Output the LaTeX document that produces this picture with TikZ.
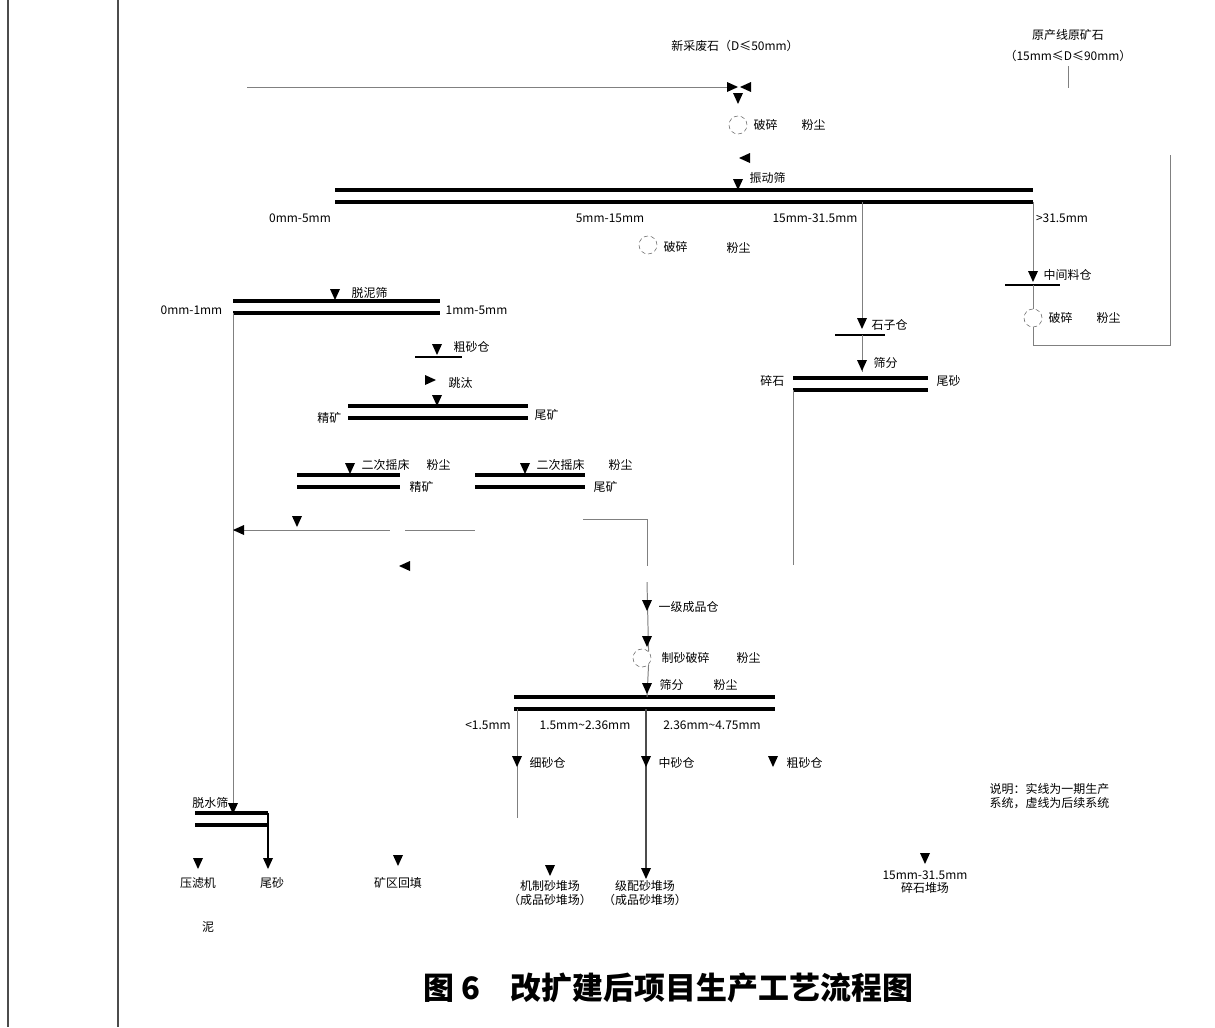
\documentclass[tikz,border=0pt]{standalone}
\usepackage{fontspec}
\usepackage{tikz}
\newfontfamily\cjk{Noto Sans CJK SC}
\newcommand{\lblfont}{\cjk\fontsize{8.5}{9.5}\selectfont}
% markers on the flow lines
\newcommand{\dtri}[1]{\fill #1 ++(-5,-7) -- ++(10,0) -- ++(-5,11) -- cycle;}
\newcommand{\ltri}[1]{\fill #1 ++(-6,0) -- ++(11,-5) -- ++(0,10) -- cycle;}
\newcommand{\rtri}[1]{\fill #1 ++(6,0) -- ++(-11,-5) -- ++(0,10) -- cycle;}

\begin{document}
\begin{tikzpicture}[x=0.025cm,y=-0.025cm,
  screen/.style={line width=2.3pt},
  feed/.style={line width=0.7pt,draw=black!50},
  lbl/.style={font=\lblfont,inner sep=1pt},
  crusher/.style={circle,draw=black!60,densely dashed,minimum size=0.45cm,inner sep=0pt}]

\useasboundingbox (0,0) rectangle (1215,1027);

% page rules
\draw[line width=1pt,black!70] (8,0) -- (8,1027);
\draw[line width=1pt,black!70] (118,0) -- (118,1027);

\coordinate (feedA) at (247,87);
\coordinate (hopA) at (733,87);
\coordinate (rawA) at (1068,66);
\coordinate (rawB) at (1068,88);

\node[crusher] (cr1) at (738,125) {};
\node[crusher] (cr2) at (648,245) {};
\node[crusher] (cr3) at (1033,318) {};
\node[crusher] (cr4) at (642,658) {};

% screens (double thick bars)
\foreach \xa/\xb/\y in {335/1033/190, 335/1033/202,
                        233/440/301, 233/440/313,
                        348/528/406, 348/528/418,
                        297/400/475, 297/400/487,
                        475/585/475, 475/585/487,
                        793/928/378, 793/928/390,
                        514/775/697, 514/775/709,
                        195/268/813, 195/268/825}
    \draw[screen] (\xa,\y) -- (\xb,\y);

% short feeder bars
\foreach \xa/\xb/\y in {415/462/357, 835/885/335, 1005/1060/285}
    \draw[line width=0.8pt] (\xa,\y) -- (\xb,\y);

% flow lines
\draw[feed] (feedA) -- (hopA);
\draw[feed] (rawA) -- (rawB);
\draw[feed] (1170,155) -- (1170,345) -- (1033,345) -- (cr3.south);
\draw[feed] (1033,202) -- (1033,278);
\draw[feed] (cr3.north) -- (1033,285);
\draw[feed] (862,202) -- (862,320);
\draw[feed] (862,335) -- (862,372);
\draw[feed] (793,390) -- (793,565);
\draw[feed] (233,313) -- (233,810);
\draw[feed] (233,530) -- (390,530);
\draw[feed] (405,530) -- (475,530);
\draw[feed] (583,519) -- (647,519) -- (647,566);
\draw[feed] (647,582) -- (cr4.north east);
\draw[feed] (cr4.south east) -- (647,697);
\draw[feed] (517,709) -- (517,818);
\draw[line width=0.9pt,black!70] (646,709) -- (646,872);
\draw[line width=1.2pt] (268,813) -- (268,862);

% triangles
\foreach \p in {(738,100),(738,186),(335,296),(437,351),(437,402),(350,470),
                (525,470),(297,523),(862,325),(862,367),(1033,278),(647,607),
                (647,643),(647,690),(517,763),(646,763),(773,763),(233,810),
                (198,865),(268,865),(398,862),(550,872),(646,875),(925,860)}
    {\dtri{\p}}
\foreach \p in {(746,87),(745,158),(239,530),(405,566)}
    {\ltri{\p}}
\foreach \p in {(732,87),(430,380)}
    {\rtri{\p}}

% labels
\node[lbl] (tFeed) at (735,46) {新采废石（D≤50mm）};
\node[lbl] (tRaw1) at (1068,35) {原产线原矿石};
\node[lbl] (tRaw2) at (1068,56) {（15mm≤D≤90mm）};
\node[lbl,anchor=west] (tCr1) at (752,125) {破碎};
\node[lbl,anchor=west] (tDu1) at (800,125) {粉尘};
\node[lbl,anchor=west] (tSc1) at (748,178) {振动筛};
\node[lbl] (tS1a) at (300,218) {0mm-5mm};
\node[lbl] (tS1b) at (610,218) {5mm-15mm};
\node[lbl] (tS1c) at (815,218) {15mm-31.5mm};
\node[lbl] (tS1d) at (1062,218) {>31.5mm};
\node[lbl,anchor=west] (tCr2) at (662,247) {破碎};
\node[lbl,anchor=west] (tDu2) at (725,248) {粉尘};
\node[lbl,anchor=west] (tBin1) at (1042,275) {中间料仓};
\node[lbl,anchor=west] (tCr3) at (1047,318) {破碎};
\node[lbl,anchor=west] (tDu3) at (1095,318) {粉尘};
\node[lbl,anchor=west] (tBin2) at (870,325) {石子仓};
\node[lbl,anchor=west] (tSc2) at (872,363) {筛分};
\node[lbl,anchor=east] (tS8a) at (786,381) {碎石};
\node[lbl,anchor=west] (tS8b) at (935,381) {尾砂};
\node[lbl,anchor=west] (tSc3) at (350,293) {脱泥筛};
\node[lbl,anchor=east] (tS2a) at (224,310) {0mm-1mm};
\node[lbl,anchor=west] (tS2b) at (444,310) {1mm-5mm};
\node[lbl,anchor=west] (tBin3) at (452,347) {粗砂仓};
\node[lbl,anchor=west] (tJig) at (447,383) {跳汰};
\node[lbl,anchor=east] (tS3a) at (343,418) {精矿};
\node[lbl,anchor=west] (tS3b) at (533,415) {尾矿};
\node[lbl,anchor=west] (tTb1) at (360,465) {二次摇床};
\node[lbl,anchor=west] (tDu4) at (425,465) {粉尘};
\node[lbl,anchor=west] (tS4) at (408,487) {精矿};
\node[lbl,anchor=west] (tTb2) at (535,465) {二次摇床};
\node[lbl,anchor=west] (tDu5) at (607,465) {粉尘};
\node[lbl,anchor=west] (tS5) at (592,487) {尾矿};
\node[lbl,anchor=west] (tBin4) at (657,607) {一级成品仓};
\node[lbl,anchor=west] (tCr4) at (660,658) {制砂破碎};
\node[lbl,anchor=west] (tDu6) at (735,658) {粉尘};
\node[lbl,anchor=west] (tSc4) at (658,685) {筛分};
\node[lbl,anchor=west] (tDu7) at (712,685) {粉尘};
\node[lbl] (tS6a) at (488,725) {<1.5mm};
\node[lbl] (tS6b) at (585,725) {1.5mm\textasciitilde 2.36mm};
\node[lbl] (tS6c) at (712,725) {2.36mm\textasciitilde 4.75mm};
\node[lbl,anchor=west] (tBin5) at (528,763) {细砂仓};
\node[lbl,anchor=west] (tBin6) at (657,763) {中砂仓};
\node[lbl,anchor=west] (tBin7) at (785,763) {粗砂仓};
\node[lbl,anchor=east] (tSc5) at (230,803) {脱水筛};
\node[lbl] (tOut1) at (198,883) {压滤机};
\node[lbl] (tOut1b) at (208,927) {泥};
\node[lbl] (tOut2) at (272,883) {尾砂};
\node[lbl] (tOut3) at (398,883) {矿区回填};
\node[lbl,align=center] (tOut4) at (550,893) {机制砂堆场\\（成品砂堆场）};
\node[lbl,align=center] (tOut5) at (645,893) {级配砂堆场\\（成品砂堆场）};
\node[lbl,align=center] (tOut6) at (925,882) {15mm-31.5mm\\碎石堆场};
\node[lbl,align=left,anchor=west] (tNote) at (988,796) {说明：实线为一期生产\\系统，虚线为后续系统};

\node[font=\cjk\fontsize{22}{24}\selectfont\bfseries] (title) at (668,988) {图\ 6\quad 改扩建后项目生产工艺流程图};

\end{tikzpicture}
\end{document}
